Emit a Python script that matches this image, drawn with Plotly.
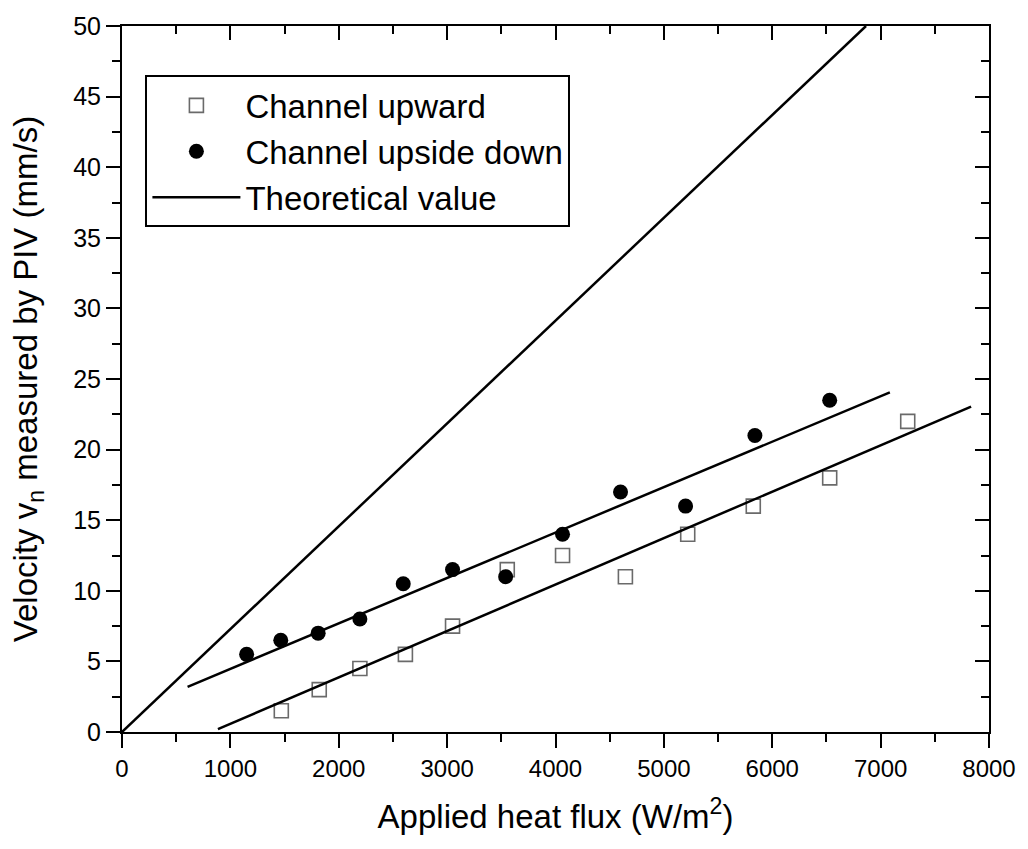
import plotly.graph_objects as go

# Data
up_x = [1470, 1820, 2195, 2615, 3050, 3555, 4065, 4645, 5220, 5825, 6530, 7250]
up_y = [1.5, 3.0, 4.5, 5.5, 7.5, 11.5, 12.5, 11.0, 14.0, 16.0, 18.0, 22.0]

down_x = [1150, 1465, 1810, 2195, 2595, 3050, 3540, 4065, 4600, 5200, 5840, 6530]
down_y = [5.5, 6.5, 7.0, 8.0, 10.5, 11.5, 11.0, 14.0, 17.0, 16.0, 21.0, 23.5]

theory_x = [0, 6865]
theory_y = [0, 50]

fit_down_x = [605, 7085]
fit_down_y = [3.2, 24.05]

fit_up_x = [885, 7835]
fit_up_y = [0.2, 23.05]

x_ticks = [0, 1000, 2000, 3000, 4000, 5000, 6000, 7000, 8000]
y_ticks = [0, 5, 10, 15, 20, 25, 30, 35, 40, 45, 50]

FONT = "Liberation Sans, Arial, sans-serif"

fig = go.Figure()
fig.add_trace(go.Scatter(
    x=up_x, y=up_y, mode="markers", name="Channel upward",
    marker=dict(symbol="square-open", size=14, color="#6a6a6a", line=dict(width=1.6)),
))
fig.add_trace(go.Scatter(
    x=down_x, y=down_y, mode="markers", name="Channel upside down",
    marker=dict(symbol="circle", size=15, color="black"),
))
fig.add_trace(go.Scatter(
    x=theory_x, y=theory_y, mode="lines", name="Theoretical value",
    line=dict(color="black", width=2.5),
))
fig.add_trace(go.Scatter(
    x=fit_down_x, y=fit_down_y, mode="lines", showlegend=False,
    line=dict(color="black", width=2.5),
))
fig.add_trace(go.Scatter(
    x=fit_up_x, y=fit_up_y, mode="lines", showlegend=False,
    line=dict(color="black", width=2.5),
))

axis_common = dict(showgrid=False, zeroline=False, showline=True, linecolor="black",
                   linewidth=2, ticks="outside", tickwidth=2, ticklen=14,
                   tickcolor="black")

fig.update_layout(
    width=1028, height=849,
    margin=dict(l=122, r=31, t=20, b=117),
    paper_bgcolor="white", plot_bgcolor="white",
    font=dict(family=FONT, color="black"),
    xaxis=dict(
        range=[0, 8000], tickvals=x_ticks, ticktext=[str(v) for v in x_ticks],
        tickfont=dict(size=24),
        minor=dict(dtick=500, ticks="outside", ticklen=8, tickwidth=2, tickcolor="black"),
        title=dict(text="Applied heat flux (W/m<sup>2</sup>)", font=dict(size=33), standoff=24),
        **axis_common,
    ),
    yaxis=dict(
        range=[0, 50], tickvals=y_ticks, ticktext=[str(v) for v in y_ticks],
        tickfont=dict(size=25),
        minor=dict(dtick=2.5, ticks="outside", ticklen=8, tickwidth=2, tickcolor="black"),
        title=dict(text="Velocity v<sub>n</sub> measured by PIV (mm/s)", font=dict(size=33), standoff=26),
        **axis_common,
    ),
    xaxis2=dict(
        overlaying="x", side="top", range=[0, 8000], tickvals=x_ticks, showticklabels=False,
        showgrid=False, zeroline=False, showline=True, linecolor="black", linewidth=2,
        ticks="inside", ticklen=14, tickwidth=2, tickcolor="black",
        minor=dict(dtick=500, ticks="inside", ticklen=8, tickwidth=2, tickcolor="black"),
    ),
    yaxis2=dict(
        overlaying="y", side="right", range=[0, 50], tickvals=y_ticks, showticklabels=False,
        showgrid=False, zeroline=False, showline=True, linecolor="black", linewidth=2,
        ticks="inside", ticklen=14, tickwidth=2, tickcolor="black",
        minor=dict(dtick=2.5, ticks="inside", ticklen=8, tickwidth=2, tickcolor="black"),
    ),
    legend=dict(
        x=0.027, y=0.93, xanchor="left", yanchor="top",
        bgcolor="white", bordercolor="black", borderwidth=2,
        font=dict(size=33, family=FONT), itemwidth=88,
    ),
    showlegend=True,
)
# invisible trace so the mirrored top/right axes are drawn
fig.add_trace(go.Scatter(x=[None], y=[None], xaxis="x2", yaxis="y2", showlegend=False, hoverinfo="skip"))

fig.write_html("out.html")
